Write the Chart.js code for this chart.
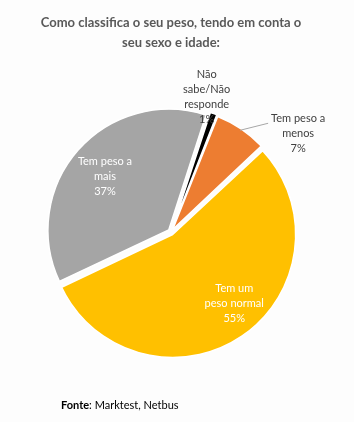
<!DOCTYPE html>
<html>
<head>
<meta charset="utf-8">
<script src="https://cdn.jsdelivr.net/npm/chart.js@4"></script>
<style>
  html, body { margin: 0; padding: 0; background: #fdfdfd; }
  #wrap { position: relative; width: 354px; height: 422px; }
  #myChart { position: absolute; left: 0; top: 0; }
  #title { position: absolute; left: 0; top: 12px; width: 342px; text-align: center;
           font: bold 13px Lato, sans-serif; line-height: 20px; color: #595959; }
  #source { position: absolute; left: 61px; top: 398px; font: 11px Lato, sans-serif; color: #000; }
</style>
</head>
<body>
<div id="wrap">
  <canvas id="myChart" width="354" height="422"></canvas>
  <div id="title">Como classifica o seu peso, tendo em conta o<br>seu sexo e idade:</div>
  <div id="source"><b>Fonte</b>: Marktest, Netbus</div>
</div>
<script>
var categories = ['Não sabe/Não responde', 'Tem peso a menos', 'Tem um peso normal', 'Tem peso a mais'];
var shares = [1, 7, 55, 37];
var colors = ['#000000', '#ED7D31', '#FFC000', '#A5A5A5'];
// where each data label goes, and a small pixel nudge (like Excel's best fit)
var placement = ['above', 'leader', 'inside', 'inside'];
var nudge = [[0, 0], [0, 0], [13, -2], [1, 4]];

function wrapText(ctx, text, maxW) {
    var words = text.split(' ');
    var lines = [];
    var cur = '';
    words.forEach(function(w){
        var test = cur ? cur + ' ' + w : w;
        if (cur && ctx.measureText(test).width > maxW) {
            lines.push(cur);
            cur = w;
        } else {
            cur = test;
        }
    });
    if (cur) lines.push(cur);
    return lines;
}

var pieLabels = {
    id: 'pieLabels',
    afterDatasetsDraw: function(chart){
        var ctx = chart.ctx;
        var meta = chart.getDatasetMeta(0);
        var lh = 15;
        ctx.save();
        ctx.font = '11px Lato, sans-serif';
        ctx.textAlign = 'center';
        ctx.textBaseline = 'middle';
        meta.data.forEach(function(arc, i){
            var p = arc.getProps(['x', 'y', 'startAngle', 'endAngle', 'outerRadius'], true);
            var mid = (p.startAngle + p.endAngle) / 2;
            var shift = (arc.options.offset || 0) / 4;
            var cx = p.x + Math.cos(mid) * shift;
            var cy = p.y + Math.sin(mid) * shift;
            var r = p.outerRadius;
            var lines = wrapText(ctx, categories[i], 60).concat([shares[i] + '%']);
            var n = lines.length;
            var px = cx + Math.cos(mid) * r;
            var py = cy + Math.sin(mid) * r;
            var nx = nudge[i][0], ny = nudge[i][1];
            if (placement[i] === 'inside') {
                var lx = cx + Math.cos(mid) * r * 0.72 + nx;
                var ly = cy + Math.sin(mid) * r * 0.72 + ny;
                ctx.fillStyle = '#ffffff';
                lines.forEach(function(t, k){
                    ctx.fillText(t, lx, ly + (k - (n - 1) / 2) * lh);
                });
            } else if (placement[i] === 'leader') {
                ctx.strokeStyle = '#a6a6a6';
                ctx.lineWidth = 1;
                ctx.beginPath();
                ctx.moveTo(px, py);
                ctx.lineTo(px + 28, py - 7);
                ctx.stroke();
                ctx.fillStyle = '#404040';
                lines.forEach(function(t, k){
                    ctx.fillText(t, px + 58, py + 3 + (k - (n - 1) / 2) * lh);
                });
            } else {
                ctx.fillStyle = '#404040';
                lines.forEach(function(t, k){
                    ctx.fillText(t, px - 6, py + 3 - (n - 1 - k) * lh);
                });
            }
        });
        ctx.restore();
    }
};

document.addEventListener('DOMContentLoaded', function(){
    var data = {
        labels: categories,
        datasets: [{
            data: shares,
            backgroundColor: colors,
            borderColor: '#ffffff',
            borderWidth: 1.5,
            offset: 12
        }]
    };
    var options = {
        responsive: false,
        animation: false,
        devicePixelRatio: 1,
        rotation: 18,
        radius: 120,
        layout: { padding: { left: 0, right: 12, top: 42, bottom: 0 } },
        plugins: {
            legend: { display: false },
            tooltip: { enabled: false }
        }
    };
    var ctx = document.getElementById('myChart').getContext('2d');
    var myChart = new Chart(ctx, {
        type: 'pie',
        data: data,
        options: options,
        plugins: [pieLabels]
    });
});
</script>
</body>
</html>
